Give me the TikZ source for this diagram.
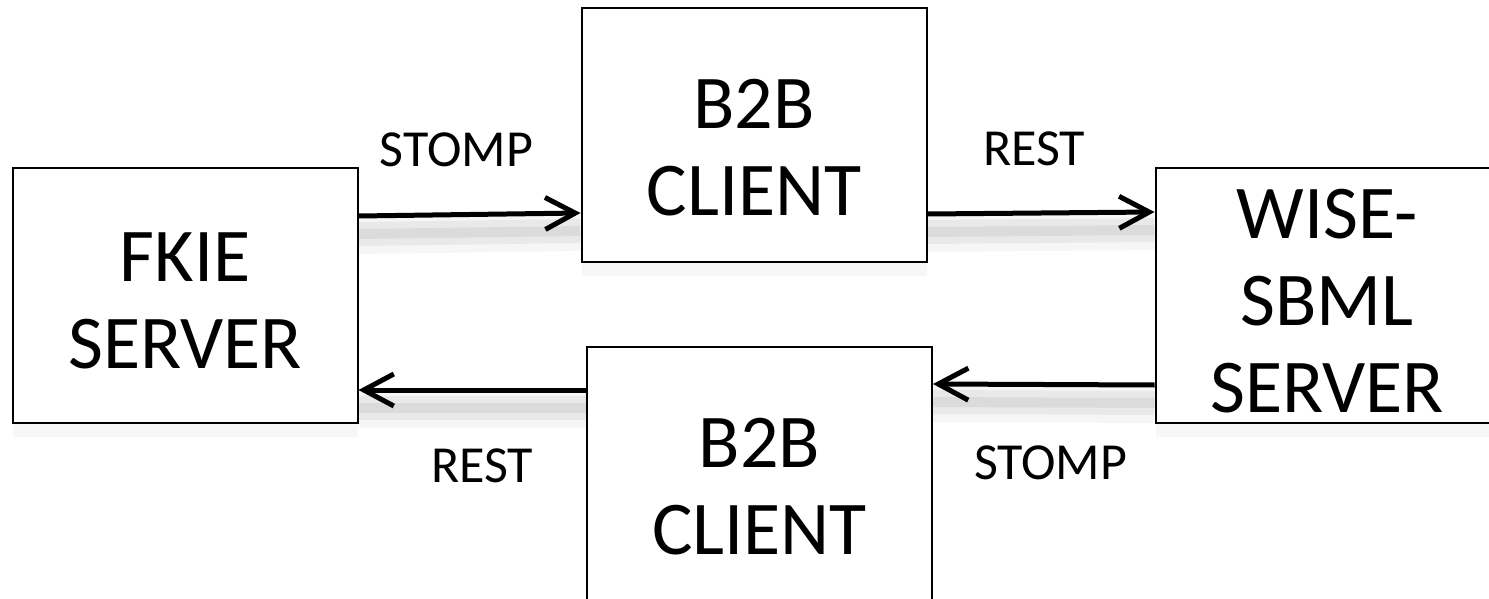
\documentclass[tikz,border=0pt]{standalone}
\usepackage{fontspec}
\setmainfont{Carlito}
\usetikzlibrary{arrows.meta}
\begin{document}
\begin{tikzpicture}[x=0.5pt, y=-0.5pt,
    box/.style = {draw, line width=1pt, fill=white, minimum width=172.5pt, minimum height=127pt,
        preaction={fill=black, opacity=.03, transform canvas={yshift=-7pt}}},
    boxtext/.style = {align=center, inner sep=0pt, font=\fontsize{38}{43.5}\selectfont},
    lbl/.style = {anchor=base, inner sep=0pt, font=\fontsize{26}{31}\selectfont},
    shade/.style = {preaction={draw, -, line width=20pt, opacity=.035, transform canvas={yshift=-9pt}},
        preaction={draw, -, line width=12pt, opacity=.05, transform canvas={yshift=-9pt}},
        preaction={draw, -, line width=5pt, opacity=.06, transform canvas={yshift=-9pt}}},
    arr/.style = {shade, line width=2.5pt, -{Straight Barb[length=15pt,width=16pt]}}]
        \useasboundingbox (0,0) rectangle (1489,599);
        \node[box] at (185,295.5) (fkie) {};
        \node[box] at (754,135) (ctop) {};
        \node[box] at (759.5,474) (cbot) {};
        \node[box] at (1328,295.5) (wise) {};
        \node[boxtext] at (185,300.5) (fkietxt) {FKIE\\SERVER};
        \node[boxtext] at (754,148) (ctoptxt) {B2B\\CLIENT};
        \node[boxtext] at (759.5,487) (cbottxt) {B2B\\CLIENT};
        \node[boxtext] at (1327,301.5) (wisetxt) {WISE-\\SBML\\SERVER};
        \draw [arr] ([yshift=39.75pt]fkie.east) to node [lbl, midway, xshift=-6.5pt, yshift=24pt]{STOMP} ([yshift=-39pt]ctop.west);
        \draw [arr] ([yshift=-39.5pt]ctop.east) to node [lbl, midway, xshift=-3.5pt, yshift=24pt]{REST} ([yshift=41.75pt]wise.west);
        \draw [arr] ([yshift=-44.75pt]wise.west) to node [lbl, midway, xshift=3.5pt, yshift=-47.5pt]{STOMP} ([yshift=45pt]cbot.east);
        \draw [arr] ([yshift=42pt]cbot.west) to node [lbl, midway, xshift=5pt, yshift=-46pt]{REST} ([yshift=-47.25pt]fkie.east);
    \end{tikzpicture}
\end{document}
